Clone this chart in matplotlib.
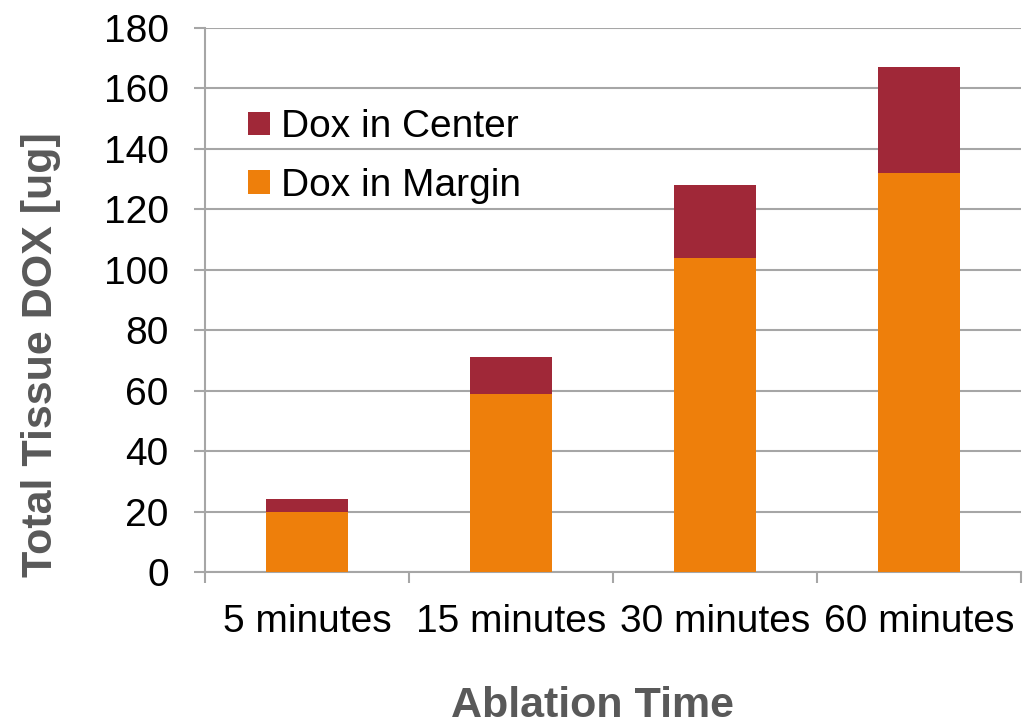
import matplotlib
matplotlib.use("Agg")
import matplotlib.pyplot as plt
import numpy as np

categories = ["5 minutes", "15 minutes", "30 minutes", "60 minutes"]
margin = [20, 59, 104, 132]
center_total = [24, 71, 128, 167]
center = [t - m for t, m in zip(center_total, margin)]

c_center = "#A02838"
c_margin = "#EE7F0B"
grid_c = "#A6A6A6"

plt.rcParams["font.family"] = ["Liberation Sans", "DejaVu Sans"]

fig = plt.figure(figsize=(10.31, 7.24), dpi=100)
ax = fig.add_axes([0.1988, 0.210, 0.7912, 0.7513])

x = np.arange(len(categories))
b1 = ax.bar(x, margin, width=0.4, color=c_margin, zorder=3, label="Dox in Margin")
b2 = ax.bar(x, center, width=0.4, bottom=margin, color=c_center, zorder=3, label="Dox in Center")

ax.set_xlim(-0.5, len(categories) - 0.5)
ax.set_ylim(0, 180)
ax.set_yticks(np.arange(0, 181, 20))
ax.set_xticks(x)
ax.set_xticklabels(categories)
ax.set_xticks(np.arange(-0.5, len(categories), 1.0), minor=True)

ax.grid(axis="y", color=grid_c, linewidth=1.5, zorder=0)
for s in ["top", "right"]:
    ax.spines[s].set_visible(False)
for s in ["left", "bottom"]:
    ax.spines[s].set_color(grid_c)
    ax.spines[s].set_linewidth(1.5)

ax.tick_params(axis="y", direction="out", length=8, width=1.5, color=grid_c,
               labelsize=28, pad=18, labelcolor="black")
ax.tick_params(axis="x", which="major", length=0, labelsize=28, pad=23, labelcolor="black")
ax.tick_params(axis="x", which="minor", direction="out", length=8, width=1.5, color=grid_c)

ax.set_ylabel("Total Tissue DOX [ug]", fontsize=31, fontweight="bold", color="#595959",
              va="center", ha="center")
ax.yaxis.set_label_coords(-0.201, 0.40)
ax.set_xlabel("Ablation Time", fontsize=31, fontweight="bold", color="#595959",
              va="center", ha="center")
ax.xaxis.set_label_coords(0.475, -0.246)

leg = ax.legend(handles=[b2, b1], loc="upper left", bbox_to_anchor=(0.034, 0.879),
                frameon=False, fontsize=28, handlelength=0.55, handleheight=0.55,
                handletextpad=0.3, labelspacing=0.58, borderaxespad=0)

fig.savefig("out.png", dpi=100, facecolor="white")
